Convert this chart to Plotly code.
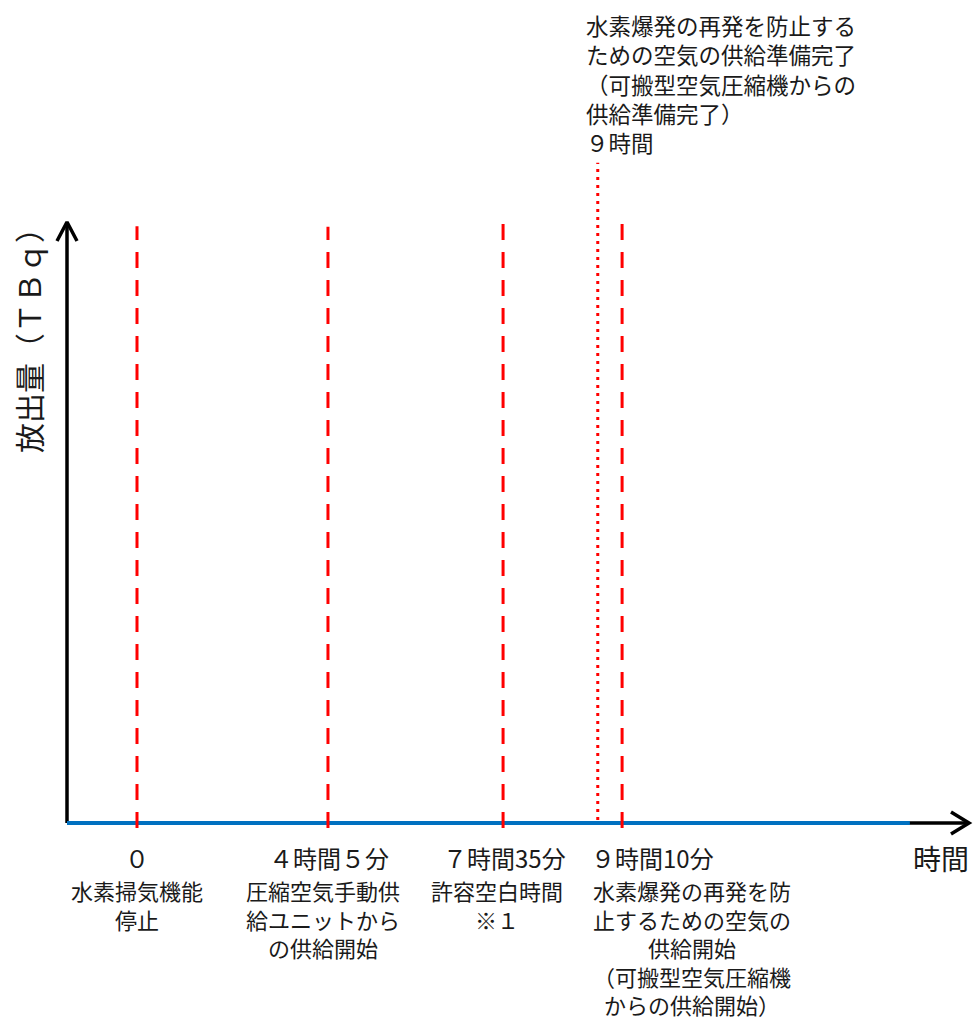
import plotly.graph_objects as go

# ---------------- data ----------------
# positions of the events along the (schematic, not-to-scale) time axis
event_pos = [0.0, 3.61, 6.92, 9.17]
event_top = [0.998, 0.997, 1.008, 1.005]          # top end of each dashed marker (axis height = 1)
event_time_labels = ["０", "４時間５分", "７時間35分", "９時間10分"]
event_desc = [
    ["水素掃気機能", "停止"],
    ["圧縮空気手動供", "給ユニットから", "の供給開始"],
    ["許容空白時間", "※１"],
    ["水素爆発の再発を防", "止するための空気の", "供給開始", "（可搬型空気圧縮機", "からの供給開始）"],
]
ready_pos = 8.71          # 9時間 : supply ready (dotted)
ready_top = 1.104
ready_label = ["水素爆発の再発を防止する", "ための空気の供給準備完了",
               "（可搬型空気圧縮機からの", "供給準備完了）", "９時間"]
release_end = 14.61       # end of the release-amount (blue) line
y_title = "放出量（ＴＢｑ）"
x_title = "時間"

# ---------------- geometry helpers ----------------
W, H = 973, 1019
S = 52.9                  # px per unit on x
X0 = 137                  # pixel of x = 0
Y0, YS = 823, 598         # pixel of y = 0 and px per unit on y

def xd(p):
    return (p - X0) / S

def yd(p):
    return (Y0 - p) / YS

FONT = "Noto Sans CJK JP"
RED = "#FF0000"
BLUE = "#0070C0"
TXT = "#1a1a1a"

fig = go.Figure()

# axes (black)
ox = xd(67)
fig.add_trace(go.Scatter(x=[ox, ox], y=[0, yd(224)], mode="lines",
                         line=dict(color="black", width=3.5), hoverinfo="skip"))
fig.add_trace(go.Scatter(x=[xd(57), ox, xd(77)], y=[yd(241), yd(222), yd(241)], mode="lines",
                         line=dict(color="black", width=3.5), hoverinfo="skip"))
fig.add_trace(go.Scatter(x=[ox, xd(968)], y=[0, 0], mode="lines",
                         line=dict(color="black", width=3.5), hoverinfo="skip"))
fig.add_trace(go.Scatter(x=[xd(951), xd(969), xd(951)], y=[yd(812), yd(823), yd(834)], mode="lines",
                         line=dict(color="black", width=3.5), hoverinfo="skip"))

# release amount (zero) line
fig.add_trace(go.Scatter(x=[ox, release_end], y=[0, 0], mode="lines",
                         line=dict(color=BLUE, width=4), hoverinfo="skip"))

# event markers (dashed red)
for p, t in zip(event_pos, event_top):
    fig.add_trace(go.Scatter(x=[p, p], y=[yd(828), t], mode="lines",
                             line=dict(color=RED, width=3, dash="16px,12px"), hoverinfo="skip"))

# ready marker (dotted red)
fig.add_trace(go.Scatter(x=[ready_pos, ready_pos], y=[yd(820), ready_top], mode="lines",
                         line=dict(color=RED, width=3, dash="3px,5px"), hoverinfo="skip"))

ann = []
fs = 22.5

time_dx = [0, 1, 1, 30]
desc_dx = [0, -5, -6, 70]
for p, lab, lines, tdx, ddx in zip(event_pos, event_time_labels, event_desc, time_dx, desc_dx):
    ann.append(dict(x=p + tdx / S, y=yd(857), text=lab, xanchor="center", yanchor="middle",
                    showarrow=False, borderpad=0, font=dict(size=24, family=FONT, color=TXT)))
    ann.append(dict(x=p + ddx / S, y=yd(873), text="<br>".join(lines), xanchor="center", yanchor="top",
                    align="center", showarrow=False, borderpad=0,
                    font=dict(size=22, family=FONT, color=TXT)))

ann.append(dict(x=xd(584), y=yd(7), text="<br>".join(ready_label), xanchor="left", yanchor="top",
                align="left", showarrow=False, font=dict(size=fs, family=FONT, color=TXT)))

ann.append(dict(x=xd(941), y=yd(858), text=x_title, xanchor="center", yanchor="middle",
                showarrow=False, font=dict(size=28, family=FONT, color=TXT)))
ann.append(dict(x=xd(28), y=yd(333), text=y_title, textangle=-90, xanchor="center", yanchor="middle",
                showarrow=False, font=dict(size=30, family=FONT, color=TXT)))

fig.update_layout(
    width=W, height=H,
    margin=dict(l=0, r=0, t=0, b=0),
    paper_bgcolor="white", plot_bgcolor="white",
    showlegend=False,
    annotations=ann,
    xaxis=dict(range=[xd(0), xd(W)], visible=False, fixedrange=True),
    yaxis=dict(range=[yd(H), yd(0)], visible=False, fixedrange=True),
)

fig.write_html(
    "out.html",
    config={"displayModeBar": False},
    post_script="document.body.style.margin='0';document.body.style.overflow='hidden';",
)
